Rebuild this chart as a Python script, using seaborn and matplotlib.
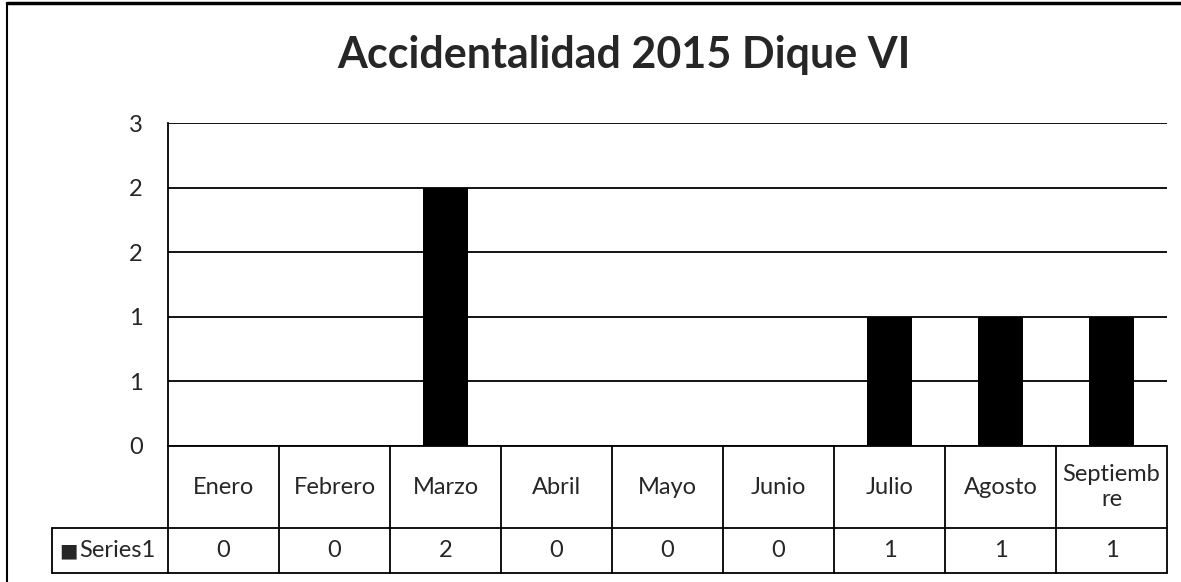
import math
import matplotlib
matplotlib.use("Agg")
import matplotlib.pyplot as plt
import seaborn as sns
import pandas as pd
from matplotlib.lines import Line2D

months = ["Enero", "Febrero", "Marzo", "Abril", "Mayo", "Junio", "Julio", "Agosto", "Septiembre"]
month_labels = ["Enero", "Febrero", "Marzo", "Abril", "Mayo", "Junio", "Julio", "Agosto", "Septiemb\nre"]
values = [0, 0, 2, 0, 0, 0, 1, 1, 1]
series_name = "Series1"
title = "Accidentalidad 2015 Dique VI"
yticks = [0, 0.5, 1.0, 1.5, 2.0, 2.5]

sns.set_theme(style="white")
plt.rcParams["font.family"] = ["Lato", "DejaVu Sans"]

W, H = 1181, 582
fig = plt.figure(figsize=(W / 100, H / 100), dpi=100)
fig.patch.set_facecolor("white")

def fx(px):
    return px / W

def fy(py):
    return 1 - py / H

FS = 17
left, right, top, bottom = 168, 1167, 123, 446
ax = fig.add_axes([fx(left), fy(bottom), fx(right - left), (bottom - top) / H])

df = pd.DataFrame({"month": months, "value": values})
sns.barplot(data=df, x="month", y="value", color="black", width=0.4,
            saturation=1, ax=ax, edgecolor="black", linewidth=0)

ax.set_xlim(-0.5, len(months) - 0.5)
ax.set_ylim(0, 2.5)
ax.set_yticks(yticks)
ax.set_yticklabels([str(int(math.floor(v + 0.5))) for v in yticks], fontsize=FS)
ax.tick_params(axis="y", length=0, pad=18)
ax.set_xticks([])
ax.set_xlabel("")
ax.set_ylabel("")
for t in yticks:
    ax.axhline(t, color="black", lw=1.3, zorder=0)
ax.set_axisbelow(True)
for s in ["top", "right", "bottom"]:
    ax.spines[s].set_visible(False)
ax.spines["left"].set_color("black")
ax.spines["left"].set_linewidth(1.3)

# data table below axis
row1_bot, row2_bot = 528, 573
legend_left = 52
cw = (right - left) / len(months)
lines = []
for k in range(len(months) + 1):
    x = left + k * cw
    lines.append(([x, x], [bottom, row2_bot]))
lines.append(([left, right], [bottom, bottom]))
lines.append(([legend_left, right], [row1_bot, row1_bot]))
lines.append(([legend_left, right], [row2_bot, row2_bot]))
lines.append(([legend_left, legend_left], [row1_bot, row2_bot]))
for xs, ys in lines:
    fig.add_artist(Line2D([fx(v) for v in xs], [fy(v) for v in ys], color="black", lw=1.3))

for k, (lab, val) in enumerate(zip(month_labels, values)):
    cx = left + (k + 0.5) * cw
    fig.text(fx(cx), fy((bottom + row1_bot) / 2), lab, ha="center", va="center",
             fontsize=FS, linespacing=1.25)
    fig.text(fx(cx), fy((row1_bot + row2_bot) / 2), str(val), ha="center", va="center", fontsize=FS)

fig.text(fx(legend_left + 7), fy((row1_bot + row2_bot) / 2), "\u25A0", ha="left", va="center",
         fontsize=14, family=["DejaVu Sans"])
fig.text(fx(legend_left + 27), fy((row1_bot + row2_bot) / 2), series_name, ha="left", va="center",
         fontsize=FS)

# title
fig.text(fx(624), fy(55), title, ha="center", va="center", fontsize=31, fontweight="bold")

# outer chart frame (left and top visible)
fig.add_artist(Line2D([fx(7), fx(7)], [fy(3), fy(582)], color="black", lw=1.5))
fig.add_artist(Line2D([fx(7), fx(1181)], [fy(3), fy(3)], color="black", lw=2.5))

fig.savefig("out.png", dpi=100, facecolor="white")
